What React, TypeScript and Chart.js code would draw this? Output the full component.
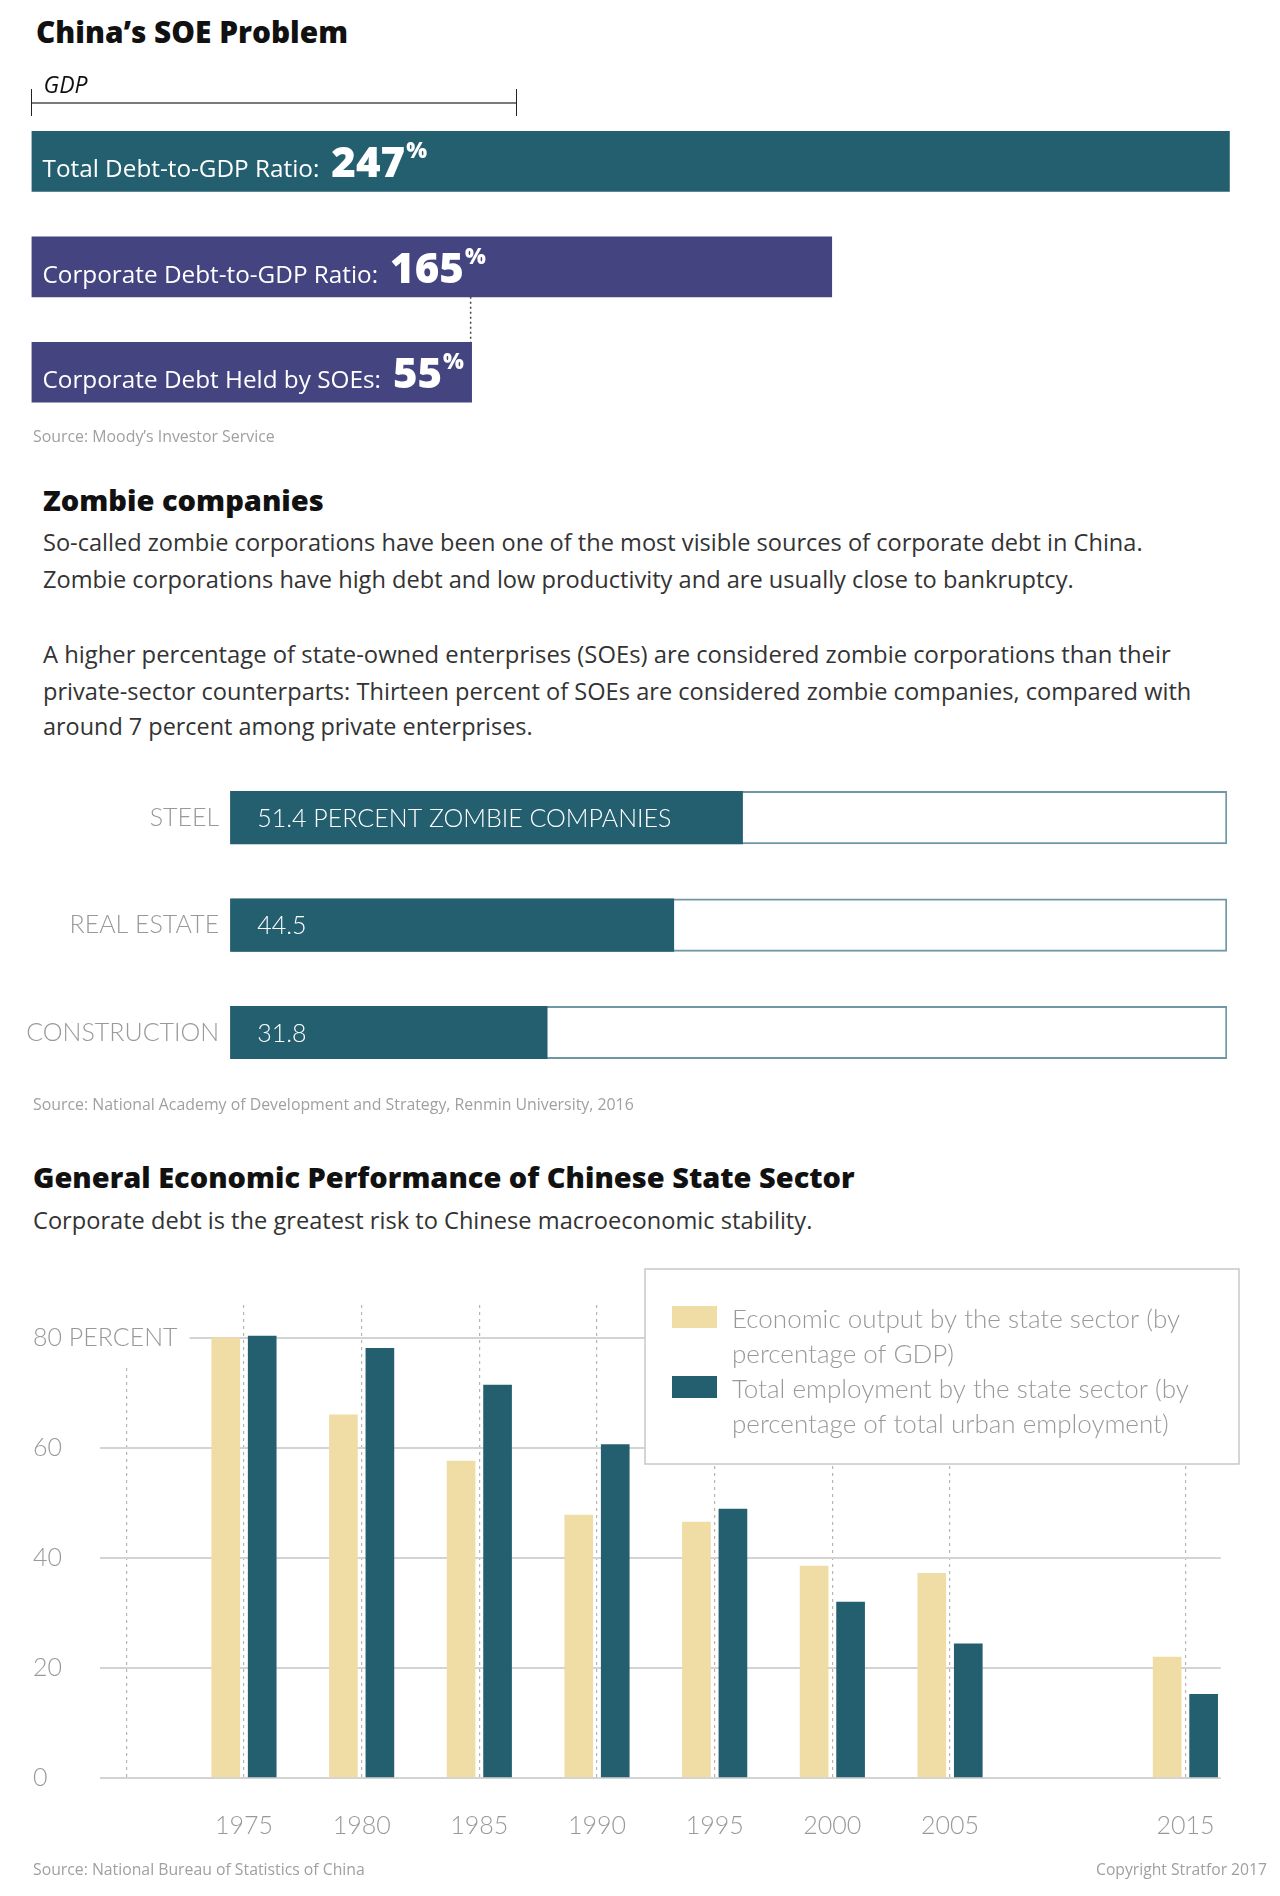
import React, { useEffect, useLayoutEffect, useRef, useState } from 'react';
import { Chart, registerables } from 'chart.js';

Chart.register(...registerables);

const LATO = 'Lato, "Open Sans", sans-serif';
const OPEN = '"Open Sans", Lato, sans-serif';
Chart.defaults.font.family = LATO;

// ---------- Data ----------
// Section 1: debt
const debtLabels = ['Total Debt-to-GDP Ratio:', 'Corporate Debt-to-GDP Ratio:', 'Corporate Debt Held by SOEs:'];
const debtPercent = [247, 165, 55];
const gdpReference = 100;
// SOE bar is drawn as 55% of the corporate-debt bar
const debtBarValues = [debtPercent[0], debtPercent[1], (debtPercent[1] * debtPercent[2]) / 100];

// Section 2: zombie companies
const zombieSectors = ['STEEL', 'REAL ESTATE', 'CONSTRUCTION'];
const zombieShare = [51.4, 44.5, 31.8];
const zombieMax = [100, 100, 100];

// Section 3: state sector
const years = [1975, 1980, 1985, 1990, 1995, 2000, 2005, 2015];
const outputShare = [80.1, 66.1, 57.7, 47.9, 46.6, 38.6, 37.3, 22.1];
const employmentShare = [80.4, 78.2, 71.5, 60.7, 49.0, 32.1, 24.5, 15.3];
const gridYears = [1970, ...years];
const yTicks = [0, 20, 40, 60, 80];
const seriesLabels = [
  'Economic output by the state sector (by percentage of GDP)',
  'Total employment by the state sector (by percentage of total urban employment)',
];

const TEAL = '#245f70';
const PURPLE = '#434480';
const CREAM = '#f0dca5';
const GRAY = '#999999';
const debtColors = [TEAL, PURPLE, PURPLE];

// ---------- helpers ----------
// Open Sans metrics: ascent 1.069, descent 0.293
function Txt(props: {
  x: number; baseline: number; size: number; w?: number; weight?: number; color?: string;
  italic?: boolean; right?: boolean; children: React.ReactNode;
}) {
  const { x, baseline, size, w, weight = 400, color = '#333', italic, right, children } = props;
  const ref = useRef<HTMLDivElement>(null);
  const [fs, setFs] = useState(size);
  useLayoutEffect(() => {
    if (!w || !ref.current) return;
    const m = ref.current.getBoundingClientRect().width;
    if (m > 0) setFs((size * w) / m);
  }, []);
  const lh = 1.362 * fs;
  const top = baseline - 1.069 * fs;
  const style: React.CSSProperties = {
    position: 'absolute', top, fontSize: fs, lineHeight: `${lh}px`, fontWeight: weight,
    color, fontStyle: italic ? 'italic' : 'normal', whiteSpace: 'nowrap', fontFamily: OPEN,
  };
  if (right) style.right = 1280 - x; else style.left = x;
  return <div ref={ref} style={style}>{children}</div>;
}

function ChartBox(props: { left: number; top: number; width: number; height: number; make: () => any }) {
  const ref = useRef<HTMLCanvasElement>(null);
  useEffect(() => {
    const chart = new Chart(ref.current as HTMLCanvasElement, props.make());
    return () => chart.destroy();
  }, []);
  return (
    <div style={{ position: 'absolute', left: props.left, top: props.top, width: props.width, height: props.height }}>
      <canvas ref={ref} />
    </div>
  );
}

// ---------- Chart 1: debt ----------
const debtPlugin = {
  id: 'debtDecor',
  afterDatasetsDraw(chart: any) {
    const ctx = chart.ctx;
    const xs = chart.scales.x;
    const meta = chart.getDatasetMeta(0);
    const x0 = xs.getPixelForValue(0);
    const x1 = xs.getPixelForValue(gdpReference);
    ctx.save();
    // GDP bracket
    ctx.strokeStyle = '#7a7a7a';
    ctx.lineWidth = 2;
    ctx.beginPath(); ctx.moveTo(x0, 43); ctx.lineTo(x1, 43); ctx.stroke();
    ctx.strokeStyle = '#222';
    ctx.lineWidth = 1;
    ctx.beginPath();
    ctx.moveTo(x0, 29); ctx.lineTo(x0, 56);
    ctx.moveTo(x1, 29); ctx.lineTo(x1, 56);
    ctx.stroke();
    ctx.fillStyle = '#111';
    ctx.font = 'italic 400 23px "Open Sans"';
    ctx.textBaseline = 'alphabetic';
    ctx.fillText('GDP', x0 + 12, 33);
    // labels
    meta.data.forEach((bar: any, i: number) => {
      const p = bar.getProps(['x', 'y', 'base'], true);
      const bl = p.y + 16;
      let tx = p.base + 11;
      ctx.fillStyle = '#fff';
      ctx.font = '400 24.3px "Open Sans"';
      ctx.fillText(debtLabels[i], tx, bl);
      tx += ctx.measureText(debtLabels[i]).width + 12;
      ctx.font = '800 42px "Open Sans"';
      const num = String(debtPercent[i]);
      ctx.fillText(num, tx, bl);
      tx += ctx.measureText(num).width + 1;
      ctx.font = '800 22px "Open Sans"';
      ctx.fillText('%', tx, bl - 19);
    });
    // dotted connector
    const b1 = meta.data[1].getProps(['y', 'height'], true);
    const b2 = meta.data[2].getProps(['x', 'y', 'height'], true);
    ctx.setLineDash([2, 3]);
    ctx.strokeStyle = '#444';
    ctx.lineWidth = 1.5;
    ctx.beginPath();
    ctx.moveTo(b2.x - 1, b1.y + b1.height / 2);
    ctx.lineTo(b2.x - 1, b2.y - b2.height / 2);
    ctx.stroke();
    ctx.restore();
  },
};

const makeDebt = () => ({
  type: 'bar',
  data: {
    labels: debtLabels,
    datasets: [{ data: debtBarValues, backgroundColor: debtColors, barThickness: 60, borderWidth: 0 }],
  },
  options: {
    indexAxis: 'y', animation: false, responsive: true, maintainAspectRatio: false,
    layout: { padding: { left: 31.5, right: 36, top: 48.6, bottom: 5 } },
    scales: { x: { display: false, min: 0, max: 250 }, y: { display: false } },
    plugins: { legend: { display: false }, tooltip: { enabled: false } },
  },
  plugins: [debtPlugin],
});

// ---------- Chart 2: zombies ----------
const zombiePlugin = {
  id: 'zombieLabels',
  afterDatasetsDraw(chart: any) {
    const ctx = chart.ctx;
    const meta = chart.getDatasetMeta(0);
    ctx.save();
    ctx.fillStyle = '#fff';
    ctx.font = '300 25px Lato';
    ctx.textBaseline = 'middle';
    meta.data.forEach((bar: any, i: number) => {
      const p = bar.getProps(['y', 'base'], true);
      const t = i === 0 ? `${zombieShare[i]} PERCENT ZOMBIE COMPANIES` : `${zombieShare[i]}`;
      ctx.fillText(t, p.base + 27, p.y + 1);
    });
    ctx.restore();
  },
};

const makeZombie = () => ({
  type: 'bar',
  data: {
    labels: zombieSectors,
    datasets: [
      { data: zombieShare, backgroundColor: TEAL, barThickness: 52.5, grouped: false, borderWidth: 0 },
      {
        data: zombieMax, backgroundColor: '#ffffff', borderColor: '#6f98a3', borderWidth: 2,
        borderSkipped: false, barThickness: 52.5, grouped: false,
      },
    ],
  },
  options: {
    indexAxis: 'y', animation: false, responsive: true, maintainAspectRatio: false,
    layout: { padding: { left: 0, right: 53, top: 30, bottom: 30 } },
    scales: {
      x: { display: false, min: 0, max: 100 },
      y: {
        grid: { display: false, drawTicks: false }, border: { display: false },
        ticks: { color: GRAY, font: { size: 25, weight: '300' }, padding: 11 },
        afterFit: (s: any) => { s.width = 230.2; },
      },
    },
    plugins: { legend: { display: false }, tooltip: { enabled: false } },
  },
  plugins: [zombiePlugin],
});

// ---------- Chart 3: state sector ----------
function wrap(ctx: CanvasRenderingContext2D, text: string, maxW: number): string[] {
  const words = text.split(' ');
  const lines: string[] = [];
  let cur = '';
  words.forEach((w) => {
    const test = cur ? cur + ' ' + w : w;
    if (ctx.measureText(test).width > maxW && cur) { lines.push(cur); cur = w; } else cur = test;
  });
  if (cur) lines.push(cur);
  return lines;
}

const legendPlugin = {
  id: 'boxLegend',
  beforeDatasetsDraw(chart: any) {
    const ctx = chart.ctx;
    const bx = 645, by = 9, bw = 594, bh = 195;
    ctx.save();
    ctx.fillStyle = '#fff';
    ctx.fillRect(bx, by, bw, bh);
    ctx.strokeStyle = '#c8c8c8';
    ctx.lineWidth = 1.5;
    ctx.strokeRect(bx, by, bw, bh);
    ctx.font = '300 26px Lato';
    ctx.textBaseline = 'middle';
    let lineY = 60;
    chart.data.datasets.forEach((ds: any) => {
      ctx.fillStyle = ds.backgroundColor;
      ctx.fillRect(672, lineY - 14, 45, 22);
      ctx.fillStyle = GRAY;
      const lines = wrap(ctx, ds.label, 490);
      lines.forEach((l) => { ctx.fillText(l, 732, lineY); lineY += 35; });
    });
    ctx.restore();
  },
};

const yLabelPlugin = {
  id: 'yLabels',
  afterDatasetsDraw(chart: any) {
    const ctx = chart.ctx;
    const ys = chart.scales.y;
    ctx.save();
    ctx.font = '300 25px Lato';
    ctx.textBaseline = 'middle';
    yTicks.forEach((v) => {
      const py = ys.getPixelForValue(v);
      const t = v === 80 ? '80 PERCENT' : String(v);
      const w = ctx.measureText(t).width;
      ctx.fillStyle = '#fff';
      ctx.fillRect(31, py - 40, w + 14, 70);
      ctx.fillStyle = GRAY;
      ctx.fillText(t, 33, py);
    });
    ctx.restore();
  },
};

const makeState = () => ({
  type: 'bar',
  data: {
    datasets: [
      { label: seriesLabels[0], data: years.map((y, i) => ({ x: y, y: outputShare[i] })), backgroundColor: CREAM },
      { label: seriesLabels[1], data: years.map((y, i) => ({ x: y, y: employmentShare[i] })), backgroundColor: TEAL },
    ],
  },
  options: {
    animation: false, responsive: true, maintainAspectRatio: false,
    datasets: { bar: { categoryPercentage: 0.62, barPercentage: 0.786, borderWidth: 0 } },
    layout: { padding: { left: 33, right: 59.3, top: 45, bottom: 0 } },
    scales: {
      x: {
        type: 'linear', min: 1968.9, max: 2016.5, offset: false,
        afterBuildTicks: (s: any) => { s.ticks = gridYears.map((v) => ({ value: v })); },
        afterFit: (s: any) => { s.height = 81.7; },
        grid: { color: '#b5b5b5', lineWidth: 1.2, drawTicks: false, offset: false },
        border: { display: false, dash: [3, 4] },
        ticks: {
          autoSkip: false, maxRotation: 0, padding: 33, color: GRAY,
          font: { size: 25, weight: '300' },
          callback: (v: any) => (v === gridYears[0] ? '' : String(v)),
        },
      },
      y: {
        min: 0, max: 86,
        afterBuildTicks: (s: any) => { s.ticks = yTicks.map((v) => ({ value: v })); },
        afterFit: (s: any) => { s.width = 67.4; },
        grid: { color: '#d3d3d3', lineWidth: 2, drawTicks: false },
        border: { display: false },
        ticks: { display: false },
      },
    },
    plugins: { legend: { display: false }, tooltip: { enabled: false } },
  },
  plugins: [legendPlugin, yLabelPlugin],
});

// ---------- App ----------
export default function App() {
  useLayoutEffect(() => {
    document.body.style.margin = '0';
  }, []);
  return (
    <div style={{ position: 'relative', width: 1280, height: 1896, background: '#fff', overflow: 'hidden', fontFamily: OPEN }}>
      <Txt x={36} baseline={44} size={27} w={312} weight={800} color="#111">China’s SOE Problem</Txt>
      <ChartBox left={0} top={60} width={1280} height={370} make={makeDebt} />
      <Txt x={33} baseline={443} size={15} w={242} weight={400} color="#a0a0a0">Source: Moody’s Investor Service</Txt>

      <Txt x={43} baseline={512} size={28} w={281} weight={800} color="#111">Zombie companies</Txt>
      <Txt x={43} baseline={551} size={22} w={1100}>So-called zombie corporations have been one of the most visible sources of corporate debt in China.</Txt>
      <Txt x={43} baseline={588} size={22} w={1031}>Zombie corporations have high debt and low productivity and are usually close to bankruptcy.</Txt>
      <Txt x={43} baseline={663} size={22} w={1128}>A higher percentage of state-owned enterprises (SOEs) are considered zombie corporations than their</Txt>
      <Txt x={43} baseline={700} size={22} w={1149}>private-sector counterparts: Thirteen percent of SOEs are considered zombie companies, compared with</Txt>
      <Txt x={43} baseline={736} size={22} w={490}>around 7 percent among private enterprises.</Txt>

      <ChartBox left={0} top={734.3} width={1280} height={382.2} make={makeZombie} />
      <Txt x={33} baseline={1111} size={15} w={601} color="#a0a0a0">Source: National Academy of Development and Strategy, Renmin University, 2016</Txt>

      <Txt x={33} baseline={1188} size={30} w={822} weight={800} color="#111">General Economic Performance of Chinese State Sector</Txt>
      <Txt x={33} baseline={1229} size={22} w={780}>Corporate debt is the greatest risk to Chinese macroeconomic stability.</Txt>

      <ChartBox left={0} top={1260} width={1280} height={600} make={makeState} />
      <Txt x={33} baseline={1876} size={15} w={332} color="#a0a0a0">Source: National Bureau of Statistics of China</Txt>
      <Txt x={1267} baseline={1876} size={15} w={171} color="#a0a0a0" right>Copyright Stratfor 2017</Txt>
    </div>
  );
}
